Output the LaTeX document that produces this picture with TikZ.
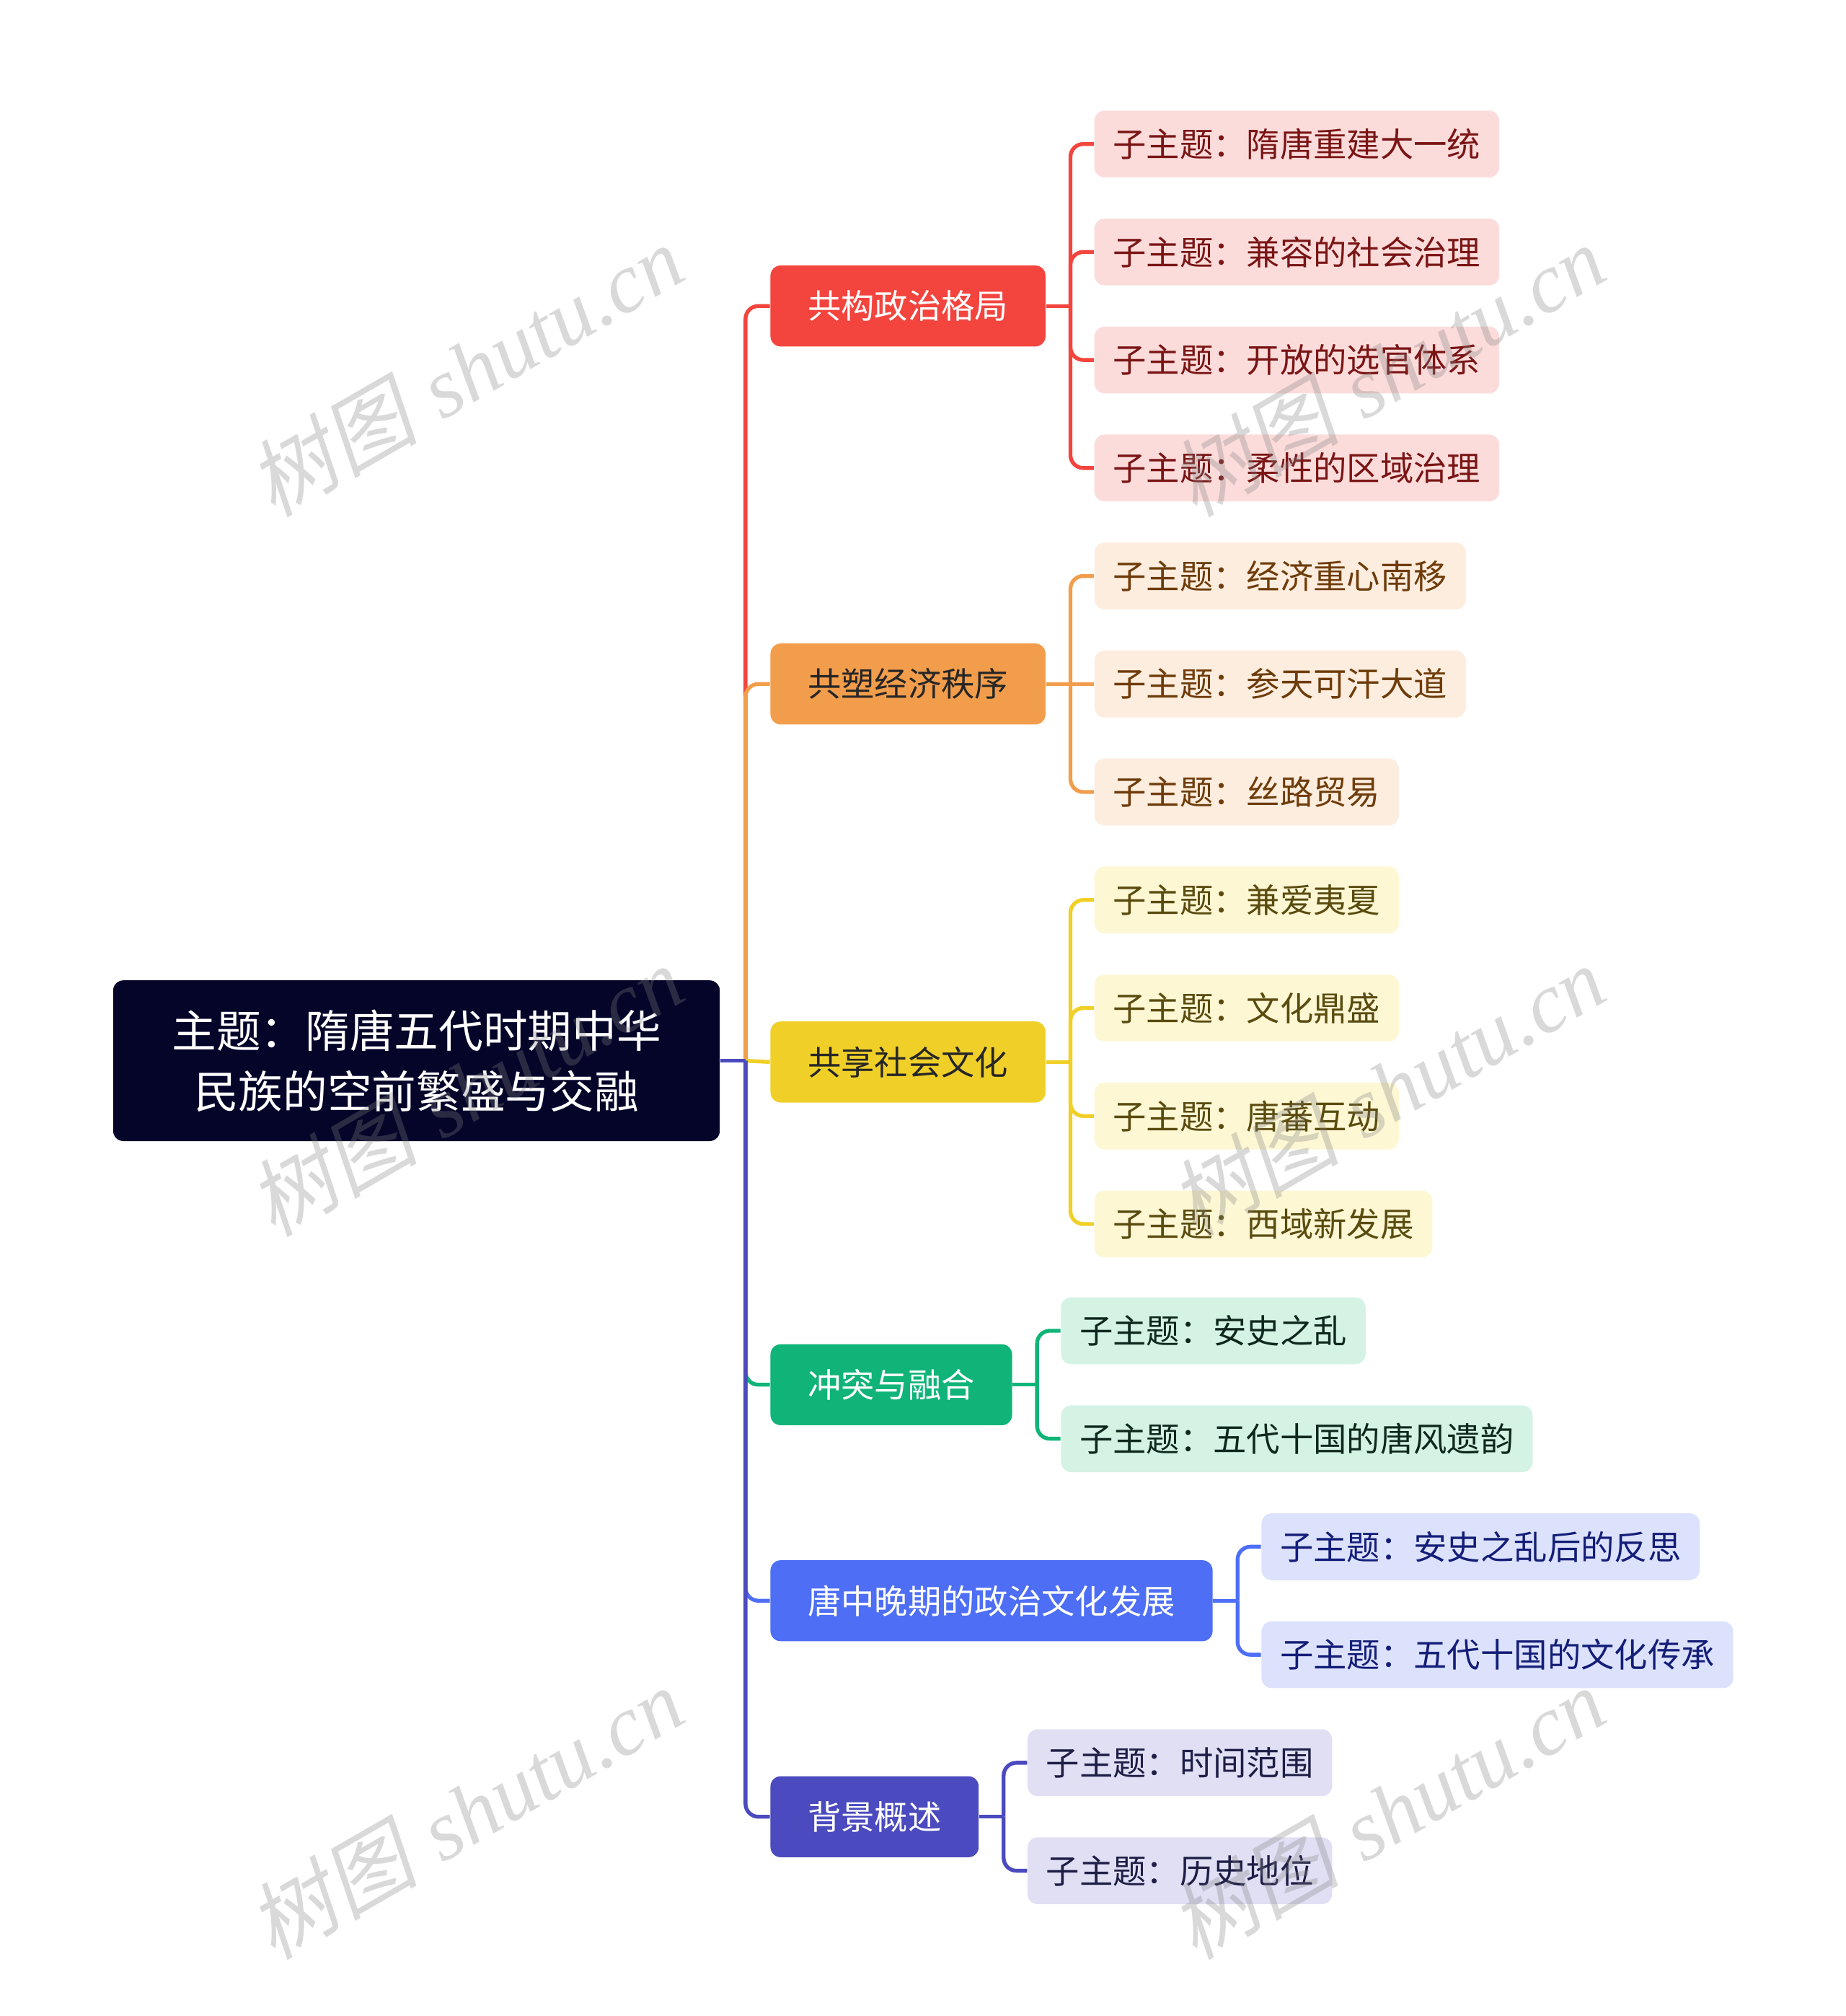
\documentclass[tikz,border=0pt]{standalone}
\usepackage{fontspec}
\newfontfamily\cjk{Noto Sans CJK SC}
\newfontfamily\wmcjk[FakeSlant=0.2]{Noto Sans CJK SC}
\newfontfamily\wmlat{Liberation Serif}
\definecolor{rootbg}{HTML}{05052A}
\definecolor{cred}{HTML}{F3443E}
\definecolor{credlt}{HTML}{FCDCDB}
\definecolor{credtx}{HTML}{7A1515}
\definecolor{corange}{HTML}{F29D4B}
\definecolor{corangelt}{HTML}{FDEDDE}
\definecolor{corangetx}{HTML}{6E3C0A}
\definecolor{cyellow}{HTML}{F0D028}
\definecolor{cyellowlt}{HTML}{FDF7D4}
\definecolor{cyellowtx}{HTML}{5A4B0F}
\definecolor{cgreen}{HTML}{10B478}
\definecolor{cgreenlt}{HTML}{D4F3E5}
\definecolor{cgreentx}{HTML}{0F281E}
\definecolor{cblue}{HTML}{4D6EF5}
\definecolor{cbluelt}{HTML}{DCE2FC}
\definecolor{cbluetx}{HTML}{141E78}
\definecolor{cindigo}{HTML}{4B4ABE}
\definecolor{cindigolt}{HTML}{E0DFF4}
\definecolor{cindigotx}{HTML}{1E1E46}
\tikzset{
  topic/.style={fill=rootbg, text=white, rounded corners=4pt, align=center,
    minimum width=236pt, minimum height=62.5pt,
    font=\cjk\fontsize{17.3}{23.5}\selectfont},
  branch/.style={fill=#1, rounded corners=4pt, anchor=west, inner xsep=14.5pt,
    inner ysep=0pt, minimum height=31.5pt, font=\cjk\fontsize{13}{15}\selectfont},
  leaf/.style={fill=#1, rounded corners=4pt, anchor=west, inner xsep=7.25pt,
    inner ysep=0pt, minimum height=26pt, font=\cjk\fontsize{13}{15}\selectfont},
  link/.style={line width=1.5pt, rounded corners=5pt},
  wmark/.style={text=black!50, opacity=0.3, rotate=30, font=\fontsize{33}{35}\selectfont}
}
\begin{document}
\begin{tikzpicture}[x=0.5pt,y=-0.5pt]
\useasboundingbox (0,0) rectangle (1436,1568);
\node[topic] (root) at (324,825) {主题：隋唐五代时期中华\\民族的空前繁盛与交融};
\coordinate (trunk) at (580,825);

% first level
\node[branch=cred,text=white] (p1) at (599,238) {共构政治格局};
\node[branch=corange,text=black!85] (p2) at (599,532) {共塑经济秩序};
\node[branch=cyellow,text=black!85] (p3) at (599,826) {共享社会文化};
\node[branch=cgreen,text=white] (p4) at (599,1077) {冲突与融合};
\node[branch=cblue,text=white] (p5) at (599,1245) {唐中晚期的政治文化发展};
\node[branch=cindigo,text=white] (p6) at (599,1413) {背景概述};

% second level
\node[leaf=credlt,text=credtx] (a1) at (851,112) {子主题：隋唐重建大一统};
\node[leaf=credlt,text=credtx] (a2) at (851,196) {子主题：兼容的社会治理};
\node[leaf=credlt,text=credtx] (a3) at (851,280) {子主题：开放的选官体系};
\node[leaf=credlt,text=credtx] (a4) at (851,364) {子主题：柔性的区域治理};
\node[leaf=corangelt,text=corangetx] (b1) at (851,448) {子主题：经济重心南移};
\node[leaf=corangelt,text=corangetx] (b2) at (851,532) {子主题：参天可汗大道};
\node[leaf=corangelt,text=corangetx] (b3) at (851,616) {子主题：丝路贸易};
\node[leaf=cyellowlt,text=cyellowtx] (c1) at (851,700) {子主题：兼爱夷夏};
\node[leaf=cyellowlt,text=cyellowtx] (c2) at (851,784) {子主题：文化鼎盛};
\node[leaf=cyellowlt,text=cyellowtx] (c3) at (851,868) {子主题：唐蕃互动};
\node[leaf=cyellowlt,text=cyellowtx] (c4) at (851,952) {子主题：西域新发展};
\node[leaf=cgreenlt,text=cgreentx] (d1) at (825,1035) {子主题：安史之乱};
\node[leaf=cgreenlt,text=cgreentx] (d2) at (825,1119) {子主题：五代十国的唐风遗韵};
\node[leaf=cbluelt,text=cbluetx] (e1) at (981,1203) {子主题：安史之乱后的反思};
\node[leaf=cbluelt,text=cbluetx] (e2) at (981,1287) {子主题：五代十国的文化传承};
\node[leaf=cindigolt,text=cindigotx] (f1) at (799,1371) {子主题：时间范围};
\node[leaf=cindigolt,text=cindigotx] (f2) at (799,1455) {子主题：历史地位};

% connectors
\draw[link,cred] (trunk) |- (p1.west);
\draw[link,cred] (p1.east) -- ++(19,0) coordinate (j1);
\draw[link,cred] (j1) |- (a1.west);
\draw[link,cred] (j1) |- (a2.west);
\draw[link,cred] (j1) |- (a3.west);
\draw[link,cred] (j1) |- (a4.west);
\draw[link,corange] (trunk) |- (p2.west);
\draw[link,corange] (p2.east) -- ++(19,0) coordinate (j2);
\draw[link,corange] (j2) |- (b1.west);
\draw[link,corange] (j2) -- (b2.west);
\draw[link,corange] (j2) |- (b3.west);
\draw[link,cyellow] (trunk) -- (p3.west);
\draw[link,cyellow] (p3.east) -- ++(19,0) coordinate (j3);
\draw[link,cyellow] (j3) |- (c1.west);
\draw[link,cyellow] (j3) |- (c2.west);
\draw[link,cyellow] (j3) |- (c3.west);
\draw[link,cyellow] (j3) |- (c4.west);
\draw[link,cgreen] (trunk) |- (p4.west);
\draw[link,cgreen] (p4.east) -- ++(19,0) coordinate (j4);
\draw[link,cgreen] (j4) |- (d1.west);
\draw[link,cgreen] (j4) |- (d2.west);
\draw[link,cblue] (trunk) |- (p5.west);
\draw[link,cblue] (p5.east) -- ++(19,0) coordinate (j5);
\draw[link,cblue] (j5) |- (e1.west);
\draw[link,cblue] (j5) |- (e2.west);
\draw[link,cindigo] (trunk) |- (p6.west);
\draw[link,cindigo] (p6.east) -- ++(19,0) coordinate (j6);
\draw[link,cindigo] (j6) |- (f1.west);
\draw[link,cindigo] (j6) |- (f2.west);
\draw[link,cindigo] (root.east) -- (trunk);

% watermark
\foreach \wx in {362,1079}
  \foreach \wy in {288,848,1410}
    \node[wmark] at (\wx,\wy) {{\wmcjk 树图} {\wmlat\itshape shutu.cn}};
\end{tikzpicture}
\end{document}
